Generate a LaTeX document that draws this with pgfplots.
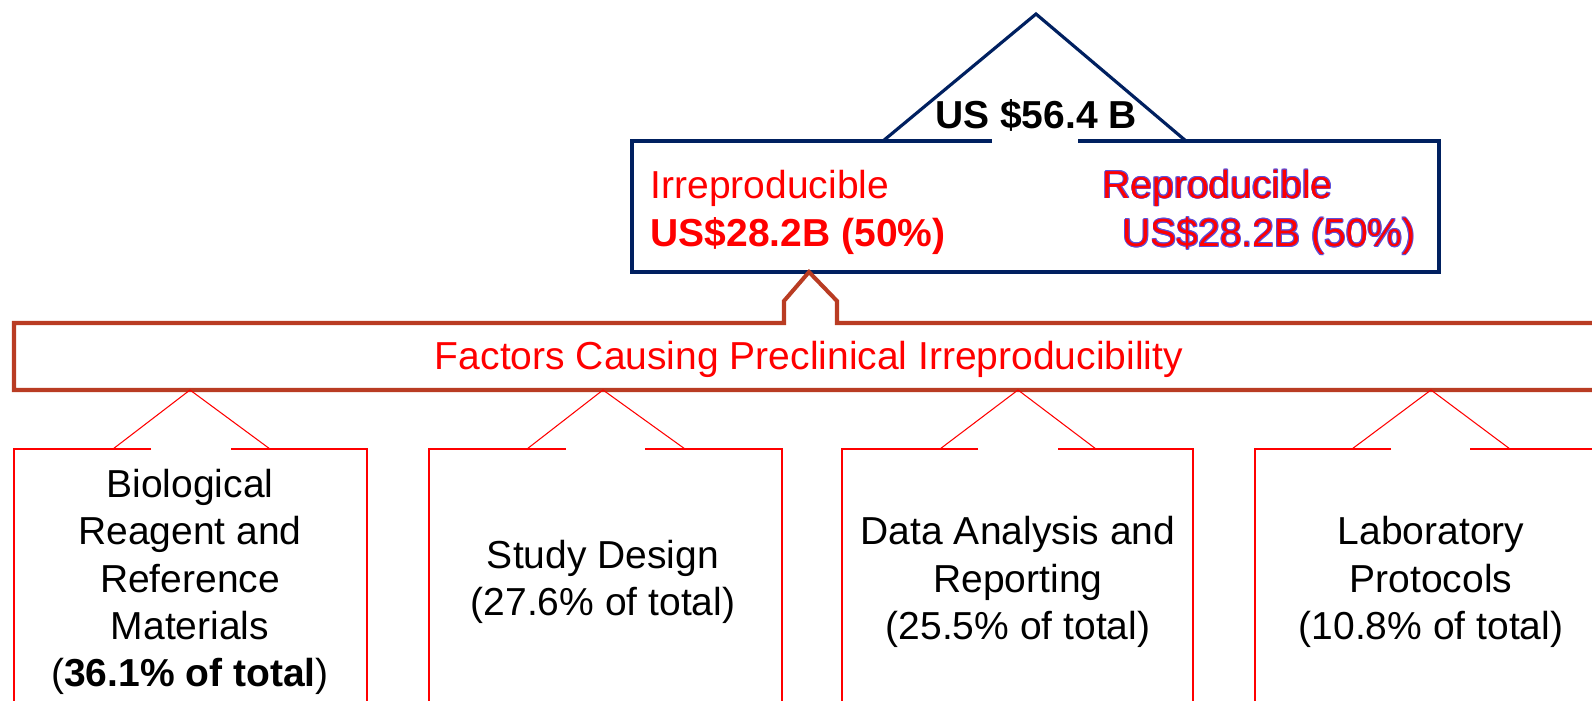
\documentclass[border=0pt]{standalone}
\usepackage{pgfplots}
\pgfplotsset{compat=1.18}
\usepackage{fontspec}
\setmainfont{Liberation Sans}
\definecolor{navy}{RGB}{0,32,96}
\definecolor{brick}{RGB}{185,60,35}
\definecolor{repcol}{RGB}{90,80,220}
\begin{document}
\fontsize{11.1}{13.5}\selectfont
\begin{tikzpicture}[every node/.append style={font=\fontsize{11.1}{13.5}\selectfont}]
\begin{axis}[width=15.92cm,height=7.01cm,scale only axis,
  xmin=0,xmax=1592,ymin=0,ymax=701,y dir=reverse,hide axis,clip=true]
\addplot[draw=none] coordinates {(0,0) (1592,701)};
% total triangle and top box
\addplot[navy,line width=0.9pt,line join=miter] coordinates {(883,141) (1036,14) (1186,141)};
\addplot[navy,line width=1.2pt,line join=miter] coordinates {(992,141) (632,141) (632,272) (1439,272) (1439,141) (1078,141)};
\node[font=\fontsize{11.1}{13.5}\selectfont\bfseries] at (axis cs:1036,115) {US \$56.4 B};
\node[anchor=west,inner sep=0,text=red] at (axis cs:650,188) {Irreproducible};
\node[anchor=west,inner sep=0,text=red,font=\fontsize{11.1}{13.5}\selectfont\bfseries] at (axis cs:650,236) {US\$28.2B (50\%)};
% Reproducible: red text with a blue outline
\foreach \dx/\dy in {-0.8/0,0.8/0,0/-0.8,0/0.8,-0.6/-0.6,0.6/0.6,-0.6/0.6,0.6/-0.6}{
  \edef\tmp{\noexpand\node[anchor=west,inner sep=0,text=repcol] at (axis cs:1102+\dx,188+\dy) {Reproducible};
  \noexpand\node[anchor=west,inner sep=0,text=repcol] at (axis cs:1122+\dx,236+\dy) {US\noexpand\$28.2B (50\noexpand\%)};}
  \tmp
}
\node[anchor=west,inner sep=0,text=red] at (axis cs:1102,188) {Reproducible};
\node[anchor=west,inner sep=0,text=red] at (axis cs:1122,236) {US\$28.2B (50\%)};
% factors box with connector
\addplot[brick,line width=1.15pt,line join=miter] coordinates {(1600,323) (837,323) (837,301) (809,272) (784,301) (784,323) (14,323) (14,390) (1600,390)};
\node[text=red] at (axis cs:809,359) {Factors Causing Preclinical Irreproducibility};
% factor boxes
\addplot[red,line width=0.3pt] coordinates {(113,449) (190,390) (270,449)};
\addplot[red,line width=0.3pt] coordinates {(151,449) (14,449) (14,705)};
\addplot[red,line width=0.3pt] coordinates {(231,449) (367,449) (367,705)};
\addplot[red,line width=0.3pt] coordinates {(527,449) (603,390) (685,449)};
\addplot[red,line width=0.3pt] coordinates {(566,449) (429,449) (429,705)};
\addplot[red,line width=0.3pt] coordinates {(645,449) (782,449) (782,705)};
\addplot[red,line width=0.3pt] coordinates {(940,449) (1018,390) (1096,449)};
\addplot[red,line width=0.3pt] coordinates {(978,449) (842,449) (842,705)};
\addplot[red,line width=0.3pt] coordinates {(1058,449) (1193,449) (1193,705)};
\addplot[red,line width=0.3pt] coordinates {(1352,449) (1431,390) (1510,449)};
\addplot[red,line width=0.3pt] coordinates {(1391,449) (1255,449) (1255,705)};
\addplot[red,line width=0.3pt] coordinates {(1470,449) (1608,449) (1608,705)};
\node[align=center] at (axis cs:190,582) {Biological\\Reagent and\\Reference\\Materials\\(\textbf{36.1\% of total})};
\node[align=center] at (axis cs:603,582) {Study Design\\(27.6\% of total)};
\node[align=center] at (axis cs:1018,582) {Data Analysis and\\Reporting\\(25.5\% of total)};
\node[align=center] at (axis cs:1431,582) {Laboratory\\Protocols\\(10.8\% of total)};
\end{axis}
\end{tikzpicture}
\end{document}
